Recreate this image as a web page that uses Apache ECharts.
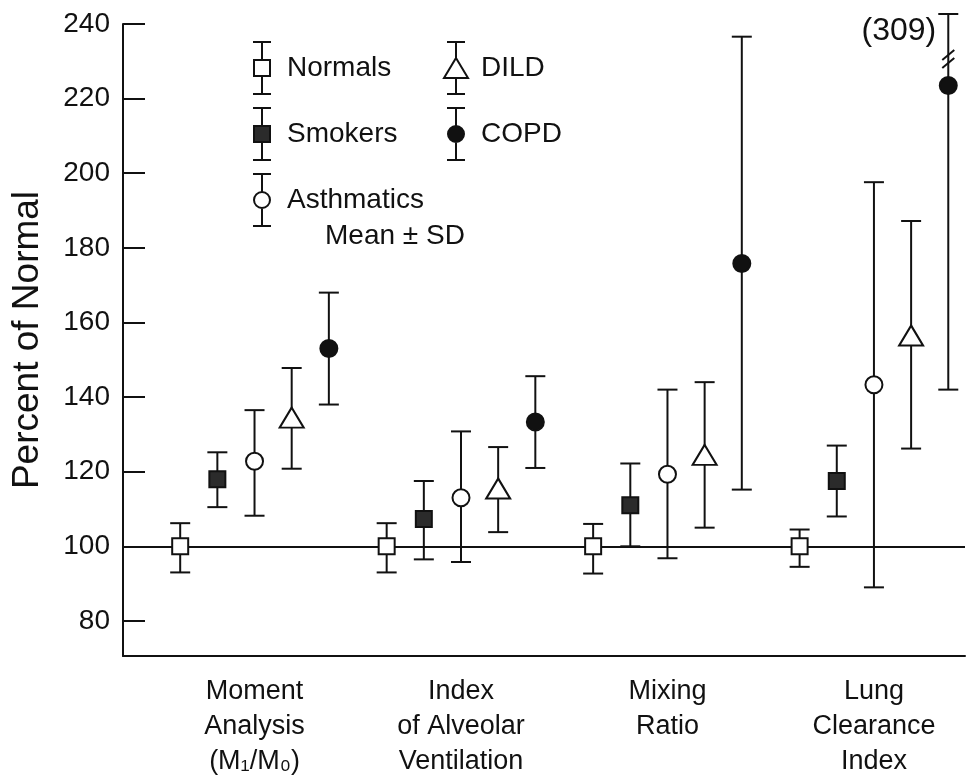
<!DOCTYPE html>
<html>
<head>
<meta charset="utf-8">
<script src="https://cdn.jsdelivr.net/npm/echarts@6/dist/echarts.min.js"></script>
<style>
  html, body { margin: 0; padding: 0; background: #fff; }
  #chart { width: 967px; height: 780px; }
</style>
</head>
<body>
<div id="chart"></div>
<script>
// Wash-out indices by subject group, percent of normal (mean, mean - SD, mean + SD)
const categories = [
  'Moment\nAnalysis\n(M₁/M₀)',
  'Index\nof Alveolar\nVentilation',
  'Mixing\nRatio',
  'Lung\nClearance\nIndex'
];
const groups = ['Normals', 'Smokers', 'Asthmatics', 'DILD', 'COPD'];
const yTicks = [80, 100, 120, 140, 160, 180, 200, 220, 240];

const normalsMean = [100, 100, 100, 100];
const normalsLow = [93, 93, 92.7, 94.5];
const normalsHigh = [106.2, 106.2, 106, 104.5];

const smokersMean = [118, 107.3, 111, 117.5];
const smokersLow = [110.5, 96.5, 100, 108];
const smokersHigh = [125.2, 117.5, 122.2, 127];

const asthmaticsMean = [122.8, 113, 119.3, 143.3];
const asthmaticsLow = [108.2, 95.8, 96.8, 89];
const asthmaticsHigh = [136.5, 130.8, 142, 197.6];

const dildMean = [134.5, 115.5, 124.5, 156.5];
const dildLow = [120.8, 103.8, 105, 126.2];
const dildHigh = [147.8, 126.6, 144, 187.2];

const copdMean = [153, 133.3, 175.8, 223.5];
const copdLow = [138, 121, 115.2, 142];
const copdHigh = [168, 145.6, 236.6, 309];

const referenceValue = 100;

// ---- layout / style ----
const FONT = 'Liberation Sans, Arial, sans-serif';
const INK = '#111';
const Y_MIN = 70.6;
const Y_MAX = 240;
const STEP = 0.18;          // horizontal offset between groups inside a category
const CAP = 10;             // half-width of error bar caps

const groupData = [
  { mean: normalsMean, low: normalsLow, high: normalsHigh, symbol: 'rect', size: 16, fill: '#fff' },
  { mean: smokersMean, low: smokersLow, high: smokersHigh, symbol: 'rect', size: 16, fill: '#2b2b2b' },
  { mean: asthmaticsMean, low: asthmaticsLow, high: asthmaticsHigh, symbol: 'circle', size: 17, fill: '#fff' },
  { mean: dildMean, low: dildLow, high: dildHigh, symbol: 'triangle', size: [24, 20], fill: '#fff' },
  { mean: copdMean, low: copdLow, high: copdHigh, symbol: 'circle', size: 17, fill: INK }
];

// Legend icons: the group marker on an error bar
const legendIcons = [
  'path://M0 0L18 0M9 0L9 18M1 18L17 18L17 34L1 34ZM9 34L9 52M0 52L18 52',
  'path://M0 0L18 0M9 0L9 18M1 18L17 18L17 34L1 34ZM9 34L9 52M0 52L18 52',
  'path://M0 0L18 0M9 0L9 18M1 26A8 8 0 1 1 17 26A8 8 0 1 1 1 26ZM9 34L9 52M0 52L18 52',
  'path://M3 0L21 0M12 0L12 16M12 16L24 36L0 36ZM12 36L12 52M3 52L21 52',
  'path://M0 0L18 0M9 0L9 18M1 26A8 8 0 1 1 17 26A8 8 0 1 1 1 26ZM9 34L9 52M0 52L18 52'
];

function xPos(categoryIndex, groupIndex) {
  return categoryIndex + (groupIndex - 2) * STEP;
}

function renderErrorBar(params, api) {
  const x = api.value(0);
  const lo = api.value(1);
  const hi = api.value(2);
  const pLo = api.coord([x, lo]);
  const offScale = hi > Y_MAX;
  const pHi = api.coord([x, offScale ? Y_MAX : hi]);
  const cx = pLo[0];
  const topY = offScale ? pHi[1] - 10 : pHi[1];
  const style = { stroke: INK, lineWidth: 2 };
  const children = [
    { type: 'line', shape: { x1: cx, y1: pLo[1], x2: cx, y2: topY }, style },
    { type: 'line', shape: { x1: cx - CAP, y1: pLo[1], x2: cx + CAP, y2: pLo[1] }, style },
    { type: 'line', shape: { x1: cx - CAP, y1: topY, x2: cx + CAP, y2: topY }, style }
  ];
  if (offScale) {
    // axis-break marks and the true upper value
    [41, 49].forEach(function (d) {
      children.push({
        type: 'line',
        shape: { x1: cx - 6, y1: topY + d + 5, x2: cx + 6, y2: topY + d - 5 },
        style: { stroke: INK, lineWidth: 2 }
      });
    });
    children.push({
      type: 'text',
      style: {
        text: '(' + hi + ')',
        x: cx - 12, y: topY + 17,
        align: 'right', verticalAlign: 'middle',
        fontSize: 32, fontFamily: FONT, fill: INK
      }
    });
  }
  return { type: 'group', children };
}

const series = [];
groups.forEach(function (name, gi) {
  const g = groupData[gi];
  const bar = {
    type: 'custom',
    name: name + ' SD',
    z: 2,
    silent: true,
    renderItem: renderErrorBar,
    encode: { x: 0, y: [1, 2] },
    data: g.mean.map(function (m, ci) { return [xPos(ci, gi), g.low[ci], g.high[ci]]; })
  };
  if (gi === 0) {
    bar.markLine = {
      silent: true,
      symbol: 'none',
      z: 1,
      label: { show: false },
      lineStyle: { color: INK, width: 2, type: 'solid' },
      data: [{ yAxis: referenceValue }]
    };
  }
  series.push(bar);
  series.push({
    type: 'scatter',
    name: name,
    z: 5,
    silent: true,
    symbol: g.symbol,
    symbolSize: g.size,
    itemStyle: { color: g.fill, borderColor: INK, borderWidth: 2, opacity: 1 },
    data: g.mean.map(function (m, ci) { return [xPos(ci, gi), m]; })
  });
});

function legendColumn(names, left) {
  return {
    orient: 'vertical',
    left: left,
    top: 41,
    padding: 0,
    itemWidth: 40,
    itemHeight: 52,
    itemGap: 12,
    selectedMode: false,
    symbolKeepAspect: true,
    textStyle: { fontSize: 28, color: INK, fontFamily: FONT },
    data: names.map(function (name) {
      const gi = groups.indexOf(name);
      return {
        name: name,
        icon: legendIcons[gi],
        itemStyle: { color: groupData[gi].fill, borderColor: INK, borderWidth: 2 }
      };
    })
  };
}

const chart = echarts.init(document.getElementById('chart'), null, { renderer: 'canvas' });
chart.setOption({
  animation: false,
  backgroundColor: '#fff',
  grid: { left: 123, right: 2, top: 24, bottom: 124 },
  xAxis: {
    type: 'value',
    min: -0.637,
    max: 3.441,
    splitLine: { show: false },
    axisTick: { show: false },
    axisLine: { show: true, onZero: false, lineStyle: { color: INK, width: 2 } },
    axisLabel: {
      customValues: [0, 1, 2, 3],
      formatter: function (v) { return categories[Math.round(v)]; },
      fontSize: 27,
      lineHeight: 35,
      margin: 18,
      color: INK,
      fontFamily: FONT
    }
  },
  yAxis: {
    type: 'value',
    min: Y_MIN,
    max: Y_MAX,
    name: 'Percent of Normal',
    nameLocation: 'middle',
    nameGap: 77,
    nameTextStyle: { fontSize: 37, color: INK, fontFamily: FONT },
    splitLine: { show: false },
    axisLine: { show: true, onZero: false, lineStyle: { color: INK, width: 2 } },
    axisTick: {
      show: true, inside: true, length: 22,
      customValues: yTicks,
      lineStyle: { color: INK, width: 2 }
    },
    axisLabel: {
      customValues: yTicks,
      fontSize: 28, margin: 13, color: INK, fontFamily: FONT
    }
  },
  legend: [
    legendColumn(groups.slice(0, 3), 252),
    legendColumn(groups.slice(3), 443)
  ],
  graphic: [{
    type: 'text',
    left: 325,
    top: 222,
    style: { text: 'Mean ± SD', fontSize: 28, fontFamily: FONT, fill: INK }
  }],
  series: series
});
</script>
</body>
</html>
